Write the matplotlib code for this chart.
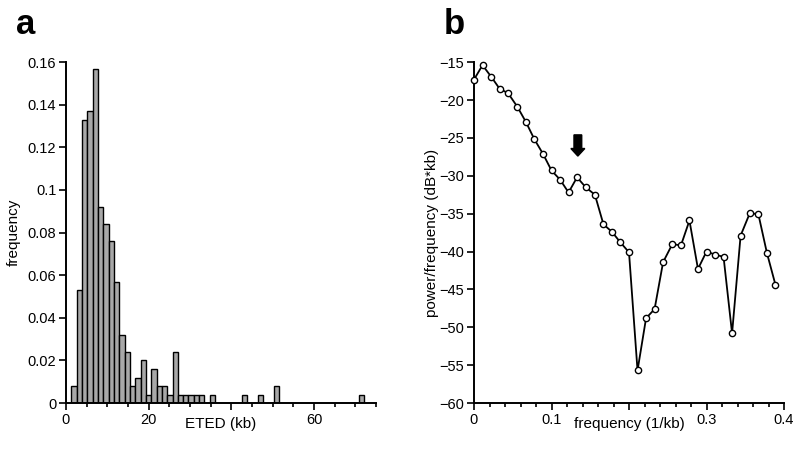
import numpy as np
import matplotlib
matplotlib.use('Agg')
import matplotlib.pyplot as plt
from matplotlib.ticker import MultipleLocator

plt.rcParams['font.family'] = ['Liberation Sans', 'DejaVu Sans']

# panel a: ETED histogram (55 bins)
bin_start = 1.26
bin_end = 72.2
eted_freq = [0.008, 0.053, 0.133, 0.137, 0.157, 0.092, 0.084, 0.076, 0.057, 0.032,
             0.024, 0.008, 0.012, 0.020, 0.004, 0.016, 0.008, 0.008, 0.004, 0.024,
             0.004, 0.004, 0.004, 0.004, 0.004, 0.0, 0.004, 0.0, 0.0, 0.0,
             0.0, 0.0, 0.004, 0.0, 0.0, 0.004, 0.0, 0.0, 0.008, 0.0,
             0.0, 0.0, 0.0, 0.0, 0.0, 0.0, 0.0, 0.0, 0.0, 0.0,
             0.0, 0.0, 0.0, 0.0, 0.004]

# panel b: power spectral density
freq = [0.000, 0.011, 0.022, 0.033, 0.044, 0.056, 0.067, 0.078, 0.089, 0.100,
        0.111, 0.122, 0.133, 0.144, 0.156, 0.167, 0.178, 0.189, 0.200, 0.211,
        0.222, 0.233, 0.244, 0.256, 0.267, 0.278, 0.289, 0.300, 0.311, 0.322,
        0.333, 0.344, 0.356, 0.367, 0.378, 0.389]
power = [-17.3, -15.4, -16.9, -18.5, -19.1, -20.9, -22.9, -25.2, -27.1, -29.3,
         -30.5, -32.2, -30.2, -31.5, -32.5, -36.4, -37.4, -38.8, -40.1, -55.7,
         -48.8, -47.6, -41.4, -39.0, -39.2, -35.9, -42.3, -40.0, -40.4, -40.7,
         -50.8, -37.9, -34.9, -35.1, -40.2, -44.4]
arrow_freq = 0.134

fig = plt.figure(figsize=(8, 4.57), dpi=100)
ax1 = fig.add_axes([0.0825, 0.118, 0.3875, 0.746])
ax2 = fig.add_axes([0.5925, 0.118, 0.3875, 0.746])

edges = np.linspace(bin_start, bin_end, len(eted_freq) + 1)
ax1.bar(edges[:-1], eted_freq, width=np.diff(edges), align='edge',
        color='#a8a8a8', edgecolor='black', linewidth=1)
ax1.set_xlim(0, 75)
ax1.set_ylim(0, 0.16)
ax1.set_xticks([0, 20, 40, 60])
ax1.set_xticklabels(['0', '20', '', '60'])  # 40 hidden behind axis label
ax1.xaxis.set_minor_locator(MultipleLocator(5))
ax1.set_yticks([0, 0.02, 0.04, 0.06, 0.08, 0.1, 0.12, 0.14, 0.16])
ax1.set_yticklabels(['0', '0.02', '0.04', '0.06', '0.08', '0.1', '0.12', '0.14', '0.16'])
ax1.set_xlabel('ETED (kb)', fontsize=11, labelpad=-7)
ax1.set_ylabel('frequency', fontsize=11, labelpad=5)

ax2.plot(freq, power, color='black', linewidth=1.3, marker='o', markersize=4.5,
         markerfacecolor='white', markeredgecolor='black', markeredgewidth=1,
         clip_on=False, zorder=3)
ax2.set_xlim(0, 0.4)
ax2.set_ylim(-60, -15)
ax2.xaxis.set_minor_locator(MultipleLocator(0.02))
ax2.yaxis.set_major_locator(MultipleLocator(5))
ax2.set_xticks([0, 0.1, 0.2, 0.3, 0.4])
ax2.set_xticklabels(['0', '0.1', '', '0.3', '0.4'])
ax2.set_xlabel('frequency (1/kb)', fontsize=11, labelpad=-7)
ax2.set_ylabel('power/frequency (dB*kb)', fontsize=11, labelpad=0)
ax2.arrow(arrow_freq, -24.6, 0, -2.8, width=0.0100, head_width=0.018,
          head_length=1.0, length_includes_head=True, color='black')

for ax in (ax1, ax2):
    for s in ('top', 'right'):
        ax.spines[s].set_visible(False)
    for s in ('left', 'bottom'):
        ax.spines[s].set_linewidth(1.4)
    ax.tick_params(which='major', length=5, width=1.2, labelsize=10.5, pad=2)
    ax.tick_params(which='minor', length=3, width=1.2)

fig.text(0.02, 0.925, 'a', fontsize=25, fontweight='bold')
fig.text(0.555, 0.925, 'b', fontsize=25, fontweight='bold')

fig.savefig('out.png', dpi=100)
